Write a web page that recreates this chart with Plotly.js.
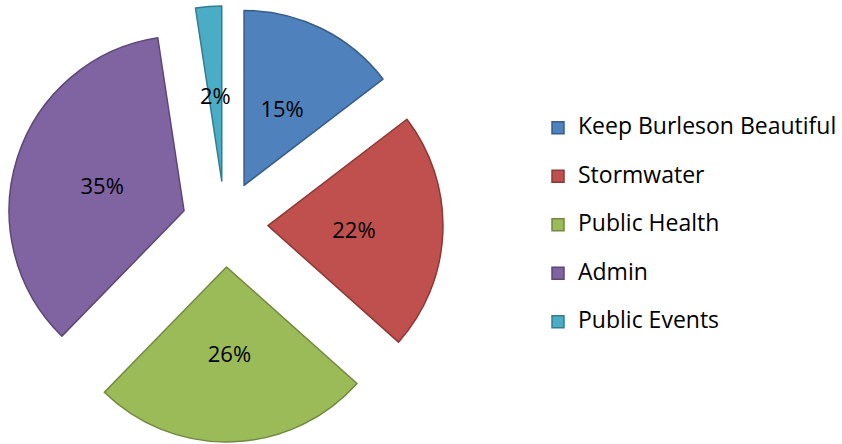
<!DOCTYPE html>
<html>
<head>
<meta charset="utf-8">
<script src="https://cdn.plot.ly/plotly-3.0.1.min.js"></script>
<style>html,body{margin:0;padding:0;background:#fff;}#chart{width:842px;height:444px;}</style>
</head>
<body>
<div id="chart"></div>
<script>
var categories = ["Keep Burleson Beautiful", "Stormwater", "Public Health", "Admin", "Public Events"];
var shares = [14.6, 22.0, 25.7, 35.3, 2.4];
var fillColors = ["#4F81BD", "#C0504D", "#9BBB59", "#8064A2", "#4BACC6"];
var edgeColors = ["#385D8A", "#8C3836", "#71893F", "#5C4776", "#357D91"];

var FONT = "Open Sans, Liberation Sans, sans-serif";
var W = 842, H = 444;
var CX = 225, CY = 224;      // pie centre (px)
var R = 175;                 // pie radius (px)
var PULL_PX = 43;            // explosion distance (px)
var LABEL_R = 86;            // distance of percent labels from slice tip (px)

function domainFor(radius) {
  var half = radius + PULL_PX;
  return {
    x: [(CX - half) / W, (CX + half) / W],
    y: [(H - (CY + half)) / H, (H - (CY - half)) / H]
  };
}

var total = shares.reduce(function (a, b) { return a + b; }, 0);

var mainTrace = {
  type: "pie",
  labels: categories.map(function (c) { return '<span style="font-size:23px;baseline-shift:7px">' + c + '</span>'; }),
  values: shares,
  sort: false,
  direction: "clockwise",
  rotation: 0,
  pull: shares.map(function () { return PULL_PX / R; }),
  marker: { colors: fillColors, line: { color: edgeColors, width: 1.5 } },
  textinfo: "none",
  hoverinfo: "none",
  domain: domainFor(R)
};

// Transparent overlay pies (same slices, same tips) that carry the percent labels,
// each sized so that Plotly places its label near mid-radius of the real slice.
var labelTraces = shares.map(function (v, i) {
  var half = Math.PI * v / total;
  var rIns = Math.min(1 / (1 + 1 / Math.sin(half)), 0.5);
  var rCenter = 1 - rIns;
  var radius = LABEL_R / rCenter;
  return {
    type: "pie",
    labels: categories,
    values: shares,
    sort: false,
    direction: "clockwise",
    rotation: 0,
    pull: shares.map(function () { return PULL_PX / radius; }),
    marker: { colors: shares.map(function () { return "rgba(0,0,0,0)"; }), line: { width: 0 } },
    textinfo: "percent",
    texttemplate: shares.map(function (_, j) { return j === i ? "%{percent:.0%}" : ""; }),
    textposition: "inside",
    insidetextorientation: "horizontal",
    insidetextfont: { family: FONT, size: 22, color: "#000000" },
    hoverinfo: "none",
    showlegend: false,
    domain: domainFor(radius)
  };
});

var layout = {
  width: W,
  height: H,
  margin: { l: 0, r: 0, t: 0, b: 0 },
  paper_bgcolor: "#ffffff",
  showlegend: true,
  uniformtext: { mode: "show", minsize: 22 },
  legend: {
    x: 538 / W,
    xanchor: "left",
    y: 1 - 225 / H,
    yanchor: "middle",
    font: { family: FONT, size: 35, color: "#000000" },
    bgcolor: "rgba(0,0,0,0)"
  }
};

Plotly.newPlot("chart", [mainTrace].concat(labelTraces), layout, { displayModeBar: false, staticPlot: true });
</script>
</body>
</html>
